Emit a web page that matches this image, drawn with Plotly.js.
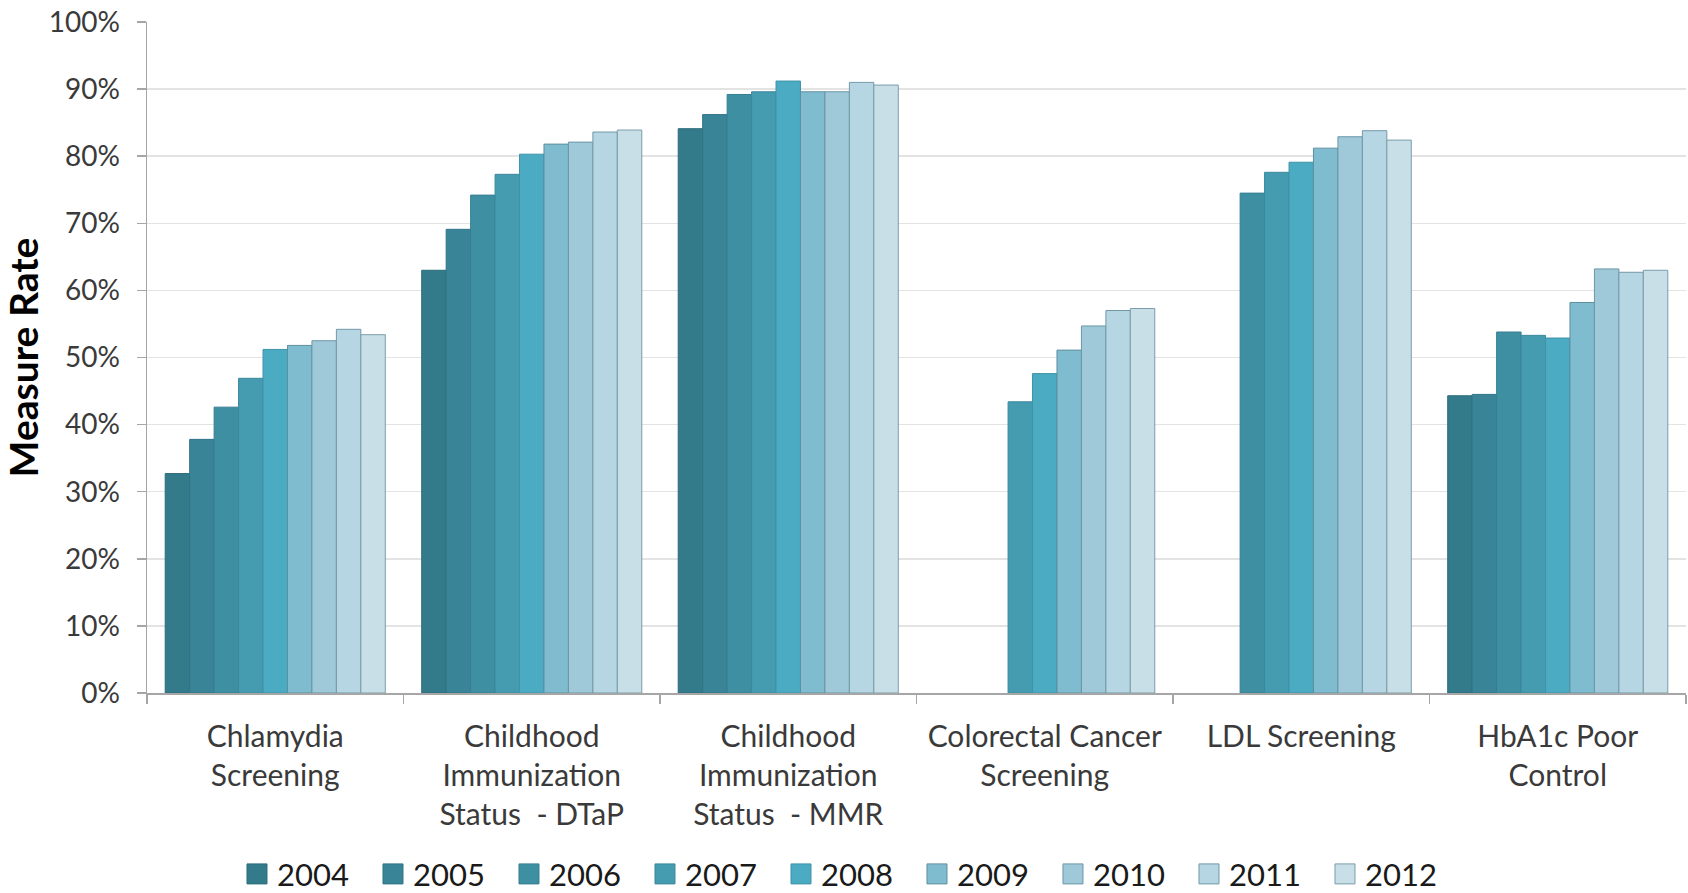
<!DOCTYPE html>
<html>
<head>
<meta charset="utf-8">
<script src="https://cdn.plot.ly/plotly-3.0.1.min.js"></script>
<style>
  html, body { margin: 0; padding: 0; background: #ffffff; }
  #chart { width: 1688px; height: 893px; }
</style>
</head>
<body>
<div id="chart"></div>
<script>
// Measure categories along the x axis
const categories = [
  'Chlamydia<br>Screening',
  'Childhood<br>Immunization<br>Status\u00a0 - DTaP',
  'Childhood<br>Immunization<br>Status\u00a0 - MMR',
  'Colorectal Cancer<br>Screening',
  'LDL Screening',
  'HbA1c Poor<br>Control'
];

const years = ['2004', '2005', '2006', '2007', '2008', '2009', '2010', '2011', '2012'];

// Measure rates (%) per year, in category order; null = not reported that year
const rates2004 = [32.7, 63.0, 84.1, null, null, 44.3];
const rates2005 = [37.8, 69.1, 86.2, null, null, 44.5];
const rates2006 = [42.6, 74.2, 89.2, null, 74.5, 53.8];
const rates2007 = [46.9, 77.3, 89.6, 43.4, 77.6, 53.3];
const rates2008 = [51.2, 80.3, 91.2, 47.6, 79.1, 52.9];
const rates2009 = [51.8, 81.8, 89.6, 51.1, 81.2, 58.2];
const rates2010 = [52.5, 82.1, 89.6, 54.7, 82.9, 63.2];
const rates2011 = [54.2, 83.6, 91.0, 57.0, 83.8, 62.7];
const rates2012 = [53.4, 83.9, 90.6, 57.3, 82.4, 63.0];

const seriesRates = [rates2004, rates2005, rates2006, rates2007, rates2008,
                     rates2009, rates2010, rates2011, rates2012];

// Teal ramp, dark (oldest) to light (newest)
const fillColors = ['#337a8b', '#398496', '#3f8fa3', '#459bb0', '#4aabc3',
                    '#80bccf', '#9fc9d8', '#b5d6e2', '#c9dfe8'];
const edgeColors = ['#2c6b7a', '#31738a', '#367f92', '#3c889c', '#3f93a8',
                    '#5f8f9f', '#6b97a6', '#7299a8', '#7a9dab'];

const FONT = 'Lato, "Open Sans", sans-serif';

const traces = years.map((yr, i) => ({
  type: 'bar',
  name: yr,
  x: categories,
  y: seriesRates[i],
  marker: { color: fillColors[i], line: { color: edgeColors[i], width: 1 } },
  hoverinfo: 'x+y+name'
}));

const layout = {
  width: 1688,
  height: 893,
  margin: { l: 147, r: 2, t: 22, b: 200, pad: 0 },
  paper_bgcolor: '#ffffff',
  plot_bgcolor: '#ffffff',
  barmode: 'group',
  bargap: 0.142,
  bargroupgap: 0,
  font: { family: FONT, color: '#3a3a3a' },
  xaxis: {
    type: 'category',
    tickson: 'boundaries',
    ticks: 'outside',
    ticklen: 9,
    tickcolor: '#a6a6a6',
    tickwidth: 1.5,
    showline: true,
    linecolor: '#a6a6a6',
    linewidth: 1.5,
    showgrid: false,
    automargin: false,
    tickfont: { family: FONT, size: 30, color: '#3a3a3a' },
    ticklabelstandoff: 16
  },
  yaxis: {
    range: [0, 100],
    dtick: 10,
    ticksuffix: '%',
    ticks: 'outside',
    ticklen: 9,
    tickcolor: '#a6a6a6',
    tickwidth: 1.5,
    showline: true,
    linecolor: '#a6a6a6',
    linewidth: 1.5,
    gridcolor: '#e3e3e3',
    gridwidth: 1.5,
    zeroline: false,
    automargin: false,
    tickfont: { family: FONT, size: 28, color: '#3a3a3a' },
    ticklabelstandoff: 11,
    title: {
      text: 'Measure Rate',
      font: { family: FONT, size: 39, color: '#000000', weight: 'bold' },
      standoff: 7
    }
  },
  legend: {
    orientation: 'h',
    xref: 'container',
    yref: 'container',
    x: 0.1404,
    xanchor: 'left',
    y: 0.021,
    yanchor: 'middle',
    entrywidth: 91,
    entrywidthmode: 'pixels',
    traceorder: 'normal',
    font: { family: FONT, size: 31, color: '#1a1a1a' },
    itemwidth: 30,
    bgcolor: 'rgba(0,0,0,0)'
  },
  showlegend: true
};

Plotly.newPlot('chart', traces, layout, { displayModeBar: false, staticPlot: true })
  .then(gd => {
    // Larger legend swatches to suit the large legend text
    gd.querySelectorAll('.legend .legendpoints path').forEach(p => {
      p.setAttribute('d', 'M10,10H-10V-10H10Z');
    });
  });
</script>
</body>
</html>
